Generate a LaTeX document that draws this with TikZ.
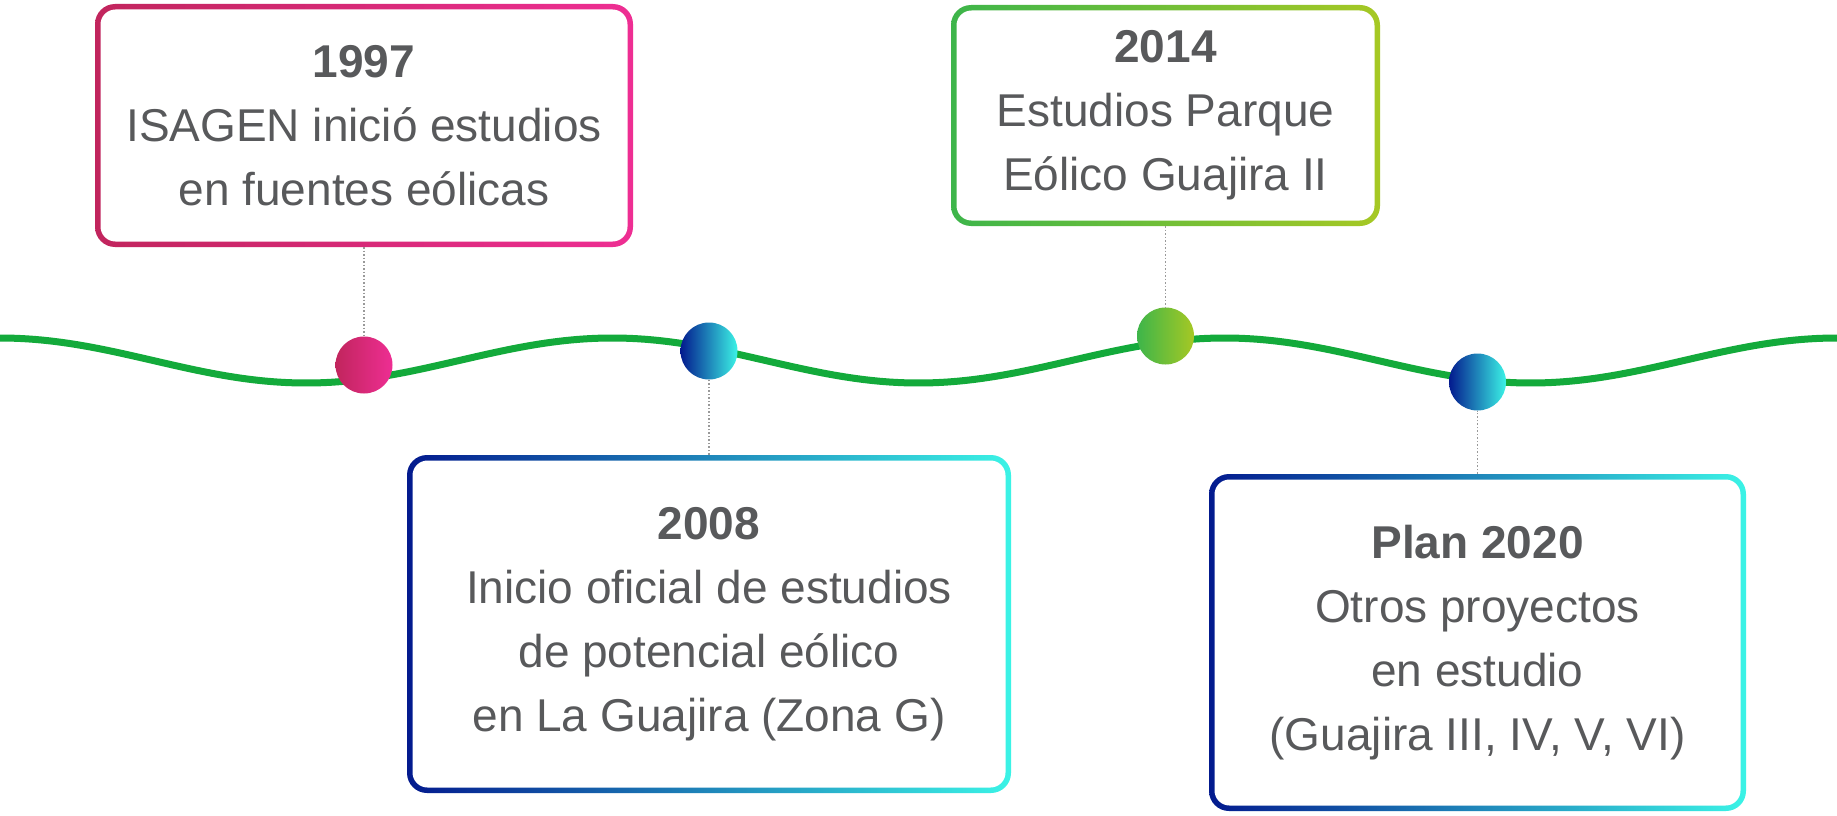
\documentclass[tikz,border=0pt]{standalone}
\usepackage{fontspec}
\setmainfont{Liberation Sans}
\usetikzlibrary{positioning}
\definecolor{txt}{HTML}{58595B}
\definecolor{magentaA}{HTML}{C1255D}
\definecolor{magentaB}{HTML}{EE2E93}
\definecolor{limeA}{HTML}{3DB54A}
\definecolor{limeB}{HTML}{A6C824}
\definecolor{oceanA}{HTML}{031A8E}
\definecolor{oceanB}{HTML}{3BF3E6}
\definecolor{wavegreen}{HTML}{13AA3B}

\begin{document}
\begin{tikzpicture}[x=1pt,y=-1pt,
  cardframe/.style 2 args={rounded corners=20pt,left color=#1,right color=#2,inner sep=0pt},
  cardbody/.style={fill=white,rounded corners=15pt,text=txt,align=center,inner sep=0pt,
    font=\fontsize{46pt}{64pt}\selectfont},
  milestone/.style 2 args={circle,inner sep=0pt,minimum size=57pt,left color=#1,right color=#2},
  link/.style={draw=black!40,line width=1.5pt,dotted},
]
  \fill[white] (0,0) rectangle (1837,816);
  \useasboundingbox (0,0) rectangle (1837,816);

  \node[cardframe={magentaA}{magentaB},minimum width=538pt,minimum height=243pt] (f1) at (364,125.5) {};
  \node[cardbody,minimum width=527pt,minimum height=232pt] (c1) at (f1) {\textbf{1997}\\ISAGEN inició estudios\\en fuentes eólicas};
  \node[cardframe={limeA}{limeB},minimum width=429pt,minimum height=221pt] (f2) at (1165.5,115.5) {};
  \node[cardbody,minimum width=418pt,minimum height=210pt] (c2) at (f2) {\textbf{2014}\\Estudios Parque\\Eólico Guajira II};
  \node[cardframe={oceanA}{oceanB},minimum width=604pt,minimum height=338pt] (f3) at (709,624) {};
  \node[cardbody,minimum width=593pt,minimum height=327pt] (c3) at (f3) {\textbf{2008}\\Inicio oficial de estudios\\de potencial eólico\\en La Guajira (Zona G)};
  \node[cardframe={oceanA}{oceanB},minimum width=537pt,minimum height=337pt] (f4) at (1477.5,642.5) {};
  \node[cardbody,minimum width=526pt,minimum height=326pt] (c4) at (f4) {\textbf{Plan 2020}\\Otros proyectos\\en estudio\\(Guajira III, IV, V, VI)};

  \draw[wavegreen,line width=7pt] plot[domain=-5:1842,samples=160,smooth] (\x,{360.5-22.5*cos(0.58792*\x)});

  \node[milestone={magentaA}{magentaB}] (m1) at (364,365) {};
  \node[milestone={oceanA}{oceanB}] (m3) at (709,351) {};
  \node[milestone={limeA}{limeB}] (m2) at (1165.5,336) {};
  \node[milestone={oceanA}{oceanB}] (m4) at (1477.5,382) {};

  \draw[link] (f1) -- (m1);
  \draw[link] (f2) -- (m2);
  \draw[link] (f3) -- (m3);
  \draw[link] (f4) -- (m4);
\end{tikzpicture}
\end{document}
